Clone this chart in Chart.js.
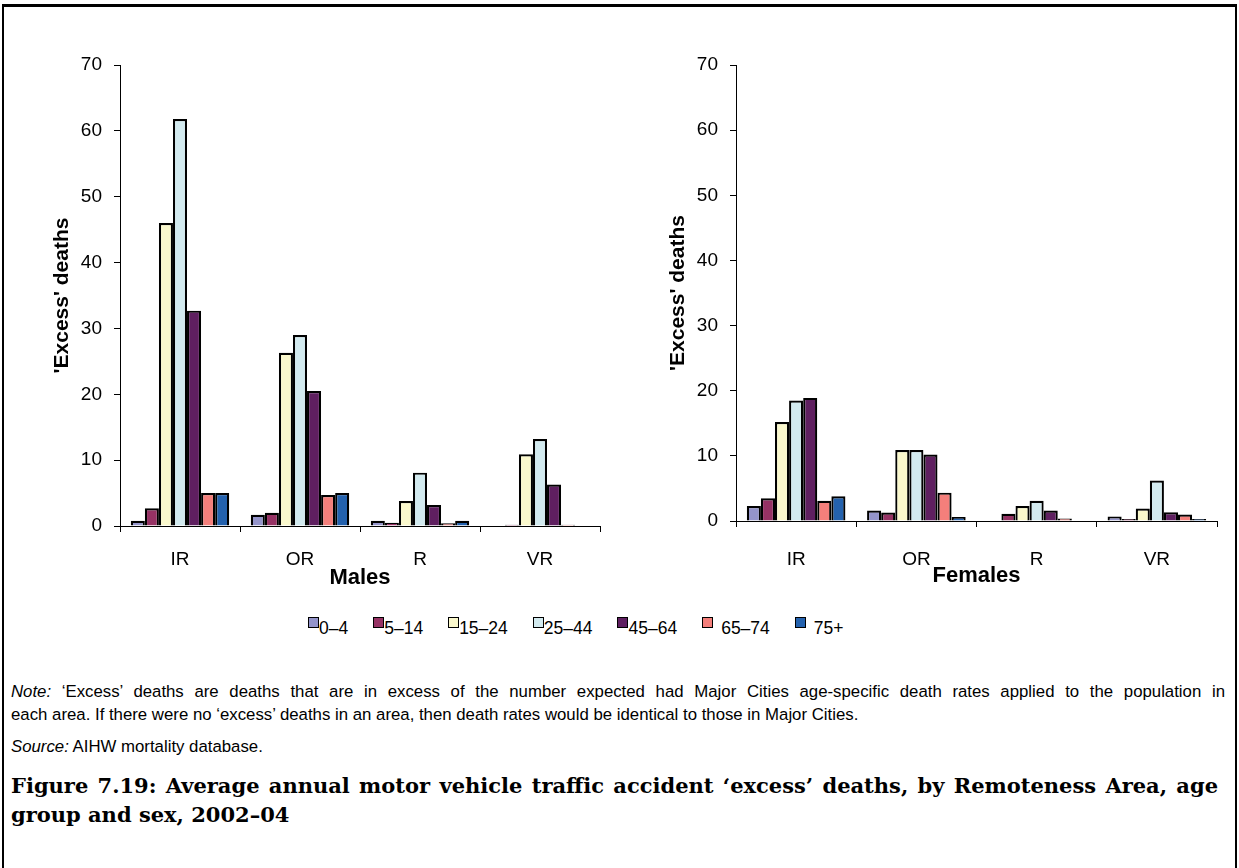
<!DOCTYPE html>
<html>
<head>
<meta charset="utf-8">
<script src="https://cdn.jsdelivr.net/npm/chart.js@4/dist/chart.umd.min.js"></script>
<style>
  body { margin: 0; background: #fff; font-family: "Liberation Sans", Arial, sans-serif; }
  #page { position: relative; width: 1239px; height: 868px; overflow: hidden; }
  #frame { position: absolute; left: 2px; top: 4px; width: 1231px; height: 880px;
           border: 2px solid #000; border-top-width: 3px; }
  canvas { position: absolute; }
  #males   { left: 40px;  top: 40px; }
  #females { left: 656px; top: 40px; }
  #legend { position: absolute; left: 308px; top: 612px; display: flex;
            font-size: 17.5px; color: #000; }
  .item { display: flex; align-items: flex-start; margin-right: 25px; }
  .item .box { width: 9px; height: 9px; border: 1.7px solid #000; margin-top: 5px; }
  .item span { padding-top: 8px; line-height: 17px; }
  .txt { position: absolute; left: 11px; font-size: 16.8px; line-height: 23px; color: #000; }
  #note { top: 680px; width: 1214px; }
  .just { text-align: justify; text-align-last: justify; }
  #source { top: 735px; }
  #caption { position: absolute; left: 11px; top: 771px; width: 1207px; font-family: "DejaVu Serif", serif;
             font-weight: bold; font-size: 21px; line-height: 29px; color: #000; }
</style>
</head>
<body>
<div id="page">
  <div id="frame"></div>
  <canvas id="males" width="570" height="560"></canvas>
  <canvas id="females" width="571" height="555"></canvas>
  <div id="legend"></div>
  <div id="note" class="txt">
    <div class="just"><i>Note:</i> ‘Excess’ deaths are deaths that are in excess of the number expected had Major Cities age-specific death rates applied to the population in</div>
    <div>each area. If there were no ‘excess’ deaths in an area, then death rates would be identical to those in Major Cities.</div>
  </div>
  <div id="source" class="txt"><i>Source:</i> AIHW mortality database.</div>
  <div id="caption">
    <div class="just">Figure 7.19: Average annual motor vehicle traffic accident ‘excess’ deaths, by Remoteness Area, age</div>
    <div>group and sex, 2002–04</div>
  </div>
</div>
<script>
// Remoteness areas and age groups
const areas     = ['IR', 'OR', 'R', 'VR'];
const ageGroups = ['0–4', '5–14', '15–24', '25–44', '45–64', '65–74', '75+'];
const colours   = ['#9494ca', '#963264', '#faf8cc', '#d2eaef', '#5f1f60', '#f47f7b', '#2462ae'];
const yTicks    = [0, 10, 20, 30, 40, 50, 60, 70];

// males, one array per age group (IR, OR, R, VR)
const males0to4   = [0.8, 1.7, 0.8, 0];
const males5to14  = [2.7, 2.0, 0.5, 0.2];
const males15to24 = [46.0, 26.3, 3.8, 10.9];
const males25to44 = [61.8, 29.0, 8.1, 13.2];
const males45to64 = [32.7, 20.5, 3.2, 6.3];
const males65to74 = [5.0, 4.7, 0.4, 0.2];
const males75plus = [5.0, 5.0, 0.8, 0];

// females
const females0to4   = [2.3, 1.6, 0, 0.7];
const females5to14  = [3.5, 1.3, 1.1, 0.3];
const females15to24 = [15.2, 10.9, 2.3, 1.9];
const females25to44 = [18.5, 10.9, 3.1, 6.2];
const females45to64 = [18.9, 10.2, 1.6, 1.35];
const females65to74 = [3.1, 4.35, 0.4, 1.0];
const females75plus = [3.8, 0.6, 0, 0.3];

const maleSeries   = [males0to4, males5to14, males15to24, males25to44, males45to64, males65to74, males75plus];
const femaleSeries = [females0to4, females5to14, females15to24, females25to44, females45to64, females65to74, females75plus];

const FONT = 'Liberation Sans';

function makeChart(id, series, sexLabel, xPad, titlePadBottom) {
  const datasets = series.map((data, i) => ({
    label: ageGroups[i],
    data,
    backgroundColor: colours[i],
    borderColor: '#000',
    borderWidth: 2.2,
    categoryPercentage: 0.82,
    barPercentage: 1.0
  }));

  return new Chart(document.getElementById(id), {
    type: 'bar',
    data: { labels: areas, datasets },
    options: {
      responsive: false,
      animation: false,
      devicePixelRatio: 1,
      layout: { padding: { top: 25, right: 10, left: 0, bottom: 0 } },
      plugins: { legend: { display: false }, tooltip: { enabled: false } },
      scales: {
        x: {
          grid: { drawOnChartArea: false, drawTicks: true, tickLength: 6, color: '#000', offset: true },
          border: { color: '#000', width: 1 },
          ticks: { color: '#000', padding: xPad, font: { family: FONT, size: 19 } },
          title: { display: true, text: sexLabel, color: '#000',
                   font: { family: FONT, size: 22, weight: 'bold' },
                   padding: { top: 0, bottom: titlePadBottom } },
          afterFit: s => { s.height = 74; }
        },
        y: {
          min: 0, max: 70,
          afterBuildTicks: s => { s.ticks = yTicks.map(v => ({ value: v })); },
          grid: { drawOnChartArea: false, drawTicks: true, tickLength: 6, color: '#000' },
          border: { color: '#000', width: 1 },
          ticks: { color: '#000', padding: 12, font: { family: FONT, size: 19 } },
          title: { display: true, text: "'Excess' deaths", color: '#000',
                   font: { family: FONT, size: 21, weight: 'bold' },
                   padding: { top: 10, bottom: 0 } },
          afterFit: s => { s.width = 80; }
        }
      }
    }
  });
}

makeChart('males', maleSeries, 'Males', 16, 9);
makeChart('females', femaleSeries, 'Females', 21, 6);

// shared legend for both panels
const legend = document.getElementById('legend');
ageGroups.forEach((g, i) => {
  const item = document.createElement('div');
  item.className = 'item';
  const box = document.createElement('div');
  box.className = 'box';
  box.style.background = colours[i];
  const txt = document.createElement('span');
  txt.textContent = g;
  if (i >= 5) txt.style.paddingLeft = '8px';
  item.append(box, txt);
  legend.appendChild(item);
});
</script>
</body>
</html>
